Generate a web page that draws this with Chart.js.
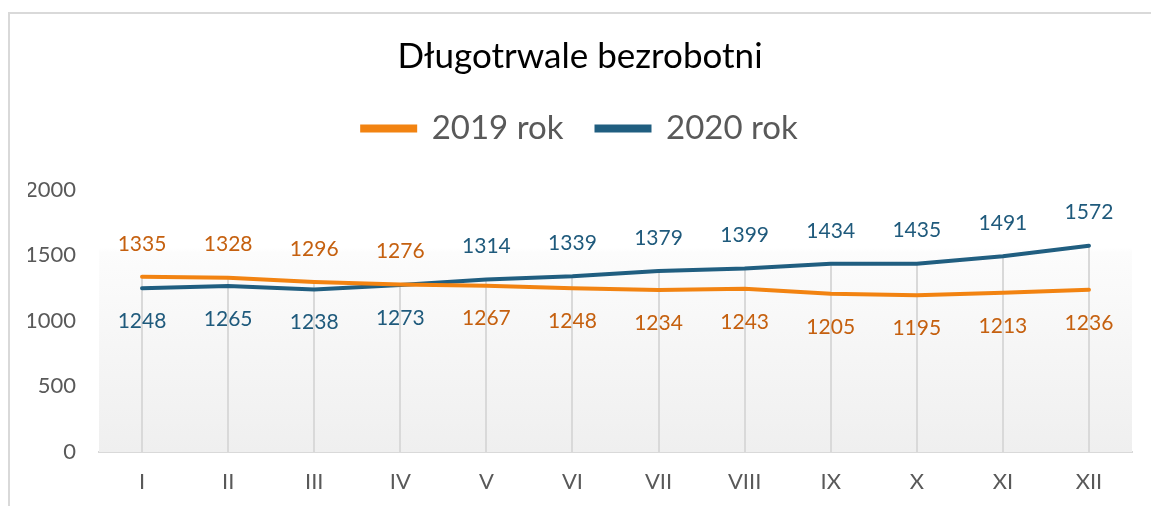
<!DOCTYPE html>
<html lang="pl">
<head>
<meta charset="utf-8">
<title>Długotrwale bezrobotni</title>
<script src="https://cdn.jsdelivr.net/npm/chart.js@4.4.1/dist/chart.umd.min.js"></script>
<style>
  html, body { margin: 0; padding: 0; background: #fff; }
  #wrap { position: relative; width: 1151px; height: 506px; overflow: hidden; }
  #frame {
    position: absolute; left: 8px; top: 12px; right: -10px; bottom: -10px;
    border-left: 2px solid #d9d9d9; border-top: 2px solid #d9d9d9;
  }
  #chart { position: absolute; left: 0; top: 0; }
</style>
</head>
<body>
<div id="wrap">
  <div id="frame"></div>
  <canvas id="chart" width="1151" height="506"></canvas>
</div>
<script>
// dane z wykresu
const months = ['I', 'II', 'III', 'IV', 'V', 'VI', 'VII', 'VIII', 'IX', 'X', 'XI', 'XII'];
const values2019 = [1335, 1328, 1296, 1276, 1267, 1248, 1234, 1243, 1205, 1195, 1213, 1236];
const values2020 = [1248, 1265, 1238, 1273, 1314, 1339, 1379, 1399, 1434, 1435, 1491, 1572];
const yTicks = [0, 500, 1000, 1500, 2000];

const FONT = "Lato, 'Open Sans', sans-serif";
const ORANGE = '#F28311';
const BLUE = '#205E80';
const ORANGE_TXT = '#C5600F';
const BLUE_TXT = '#1F5A7C';

// tło obszaru wykresu (gradient) + linie spadku od najwyższego punktu
const plotBackground = {
    id: 'plotBackground',
    beforeDatasetsDraw(chart) {
        const { ctx, chartArea: a, scales: { x, y } } = chart;
        ctx.save();
        const g = ctx.createLinearGradient(0, a.top, 0, a.bottom);
        g.addColorStop(0, '#ffffff');
        g.addColorStop(0.22, '#ffffff');
        g.addColorStop(0.24, '#fcfcfc');
        g.addColorStop(1, '#efefef');
        ctx.fillStyle = g;
        ctx.fillRect(a.left, a.top, a.right - a.left, a.bottom - a.top);

        // drop lines
        ctx.strokeStyle = '#d9d9d9';
        ctx.lineWidth = 2;
        months.forEach((m, i) => {
            const px = Math.round(x.getPixelForValue(i));
            const top = y.getPixelForValue(Math.max(values2019[i], values2020[i]));
            ctx.beginPath();
            ctx.moveTo(px, top);
            ctx.lineTo(px, y.getPixelForValue(0));
            ctx.stroke();
        });
        ctx.restore();
    }
};

// etykiety danych: nad linią wyższej serii, pod linią niższej
const valueLabels = {
    id: 'valueLabels',
    afterDatasetsDraw(chart) {
        const { ctx } = chart;
        ctx.save();
        ctx.font = '21px ' + FONT;
        ctx.textAlign = 'center';
        ctx.textBaseline = 'middle';
        chart.data.datasets.forEach((ds, di) => {
            const other = chart.data.datasets[1 - di].data;
            const meta = chart.getDatasetMeta(di);
            ctx.fillStyle = ds.labelColor;
            meta.data.forEach((pt, i) => {
                const above = ds.data[i] >= other[i];
                ctx.fillText(String(ds.data[i]), pt.x, pt.y + (above ? -33 : 33));
            });
        });
        ctx.restore();
    }
};

new Chart(document.getElementById('chart'), {
    type: 'line',
    data: {
        labels: months,
        datasets: [
            {
                label: '2019 rok',
                data: values2019,
                borderColor: ORANGE,
                backgroundColor: ORANGE,
                labelColor: ORANGE_TXT,
                borderWidth: 4,
                borderCapStyle: 'round',
                pointRadius: 0,
                tension: 0
            },
            {
                label: '2020 rok',
                data: values2020,
                borderColor: BLUE,
                backgroundColor: BLUE,
                labelColor: BLUE_TXT,
                borderWidth: 4,
                borderCapStyle: 'round',
                pointRadius: 0,
                tension: 0
            }
        ]
    },
    options: {
        responsive: false,
        animation: false,
        layout: { padding: { left: 28, right: 19, top: 0, bottom: 0 } },
        plugins: {
            title: {
                display: true,
                text: 'Długotrwale bezrobotni',
                color: '#000000',
                font: { family: FONT, size: 35, weight: 'normal', lineHeight: 1.2 },
                padding: { top: 36, bottom: 1 }
            },
            legend: {
                display: true,
                position: 'top',
                labels: {
                    color: '#595959',
                    font: { family: FONT, size: 33 },
                    boxWidth: 53,
                    boxHeight: 4,
                    padding: 33
                }
            },
            // odstęp między legendą a obszarem wykresu
            subtitle: {
                display: true,
                text: '',
                weight: 500,
                font: { size: 10, lineHeight: 1 },
                padding: { top: 0, bottom: 24.5 }
            },
            tooltip: { enabled: false }
        },
        scales: {
            x: {
                offset: true,
                grid: { display: false, drawTicks: false },
                border: { display: true, color: '#d9d9d9', width: 2 },
                ticks: {
                    color: '#595959',
                    font: { family: FONT, size: 22 },
                    padding: 17,
                    maxRotation: 0
                },
                afterFit(scale) { scale.height = 54; }
            },
            y: {
                min: 0,
                max: 2000,
                grid: { display: false, drawTicks: false },
                border: { display: false },
                afterBuildTicks(scale) { scale.ticks = yTicks.map(v => ({ value: v })); },
                ticks: {
                    color: '#595959',
                    font: { family: FONT, size: 22 },
                    padding: 23,
                    callback: v => String(v)
                },
                afterFit(scale) { scale.width = 71; }
            }
        }
    },
    plugins: [plotBackground, valueLabels]
});
</script>
</body>
</html>
